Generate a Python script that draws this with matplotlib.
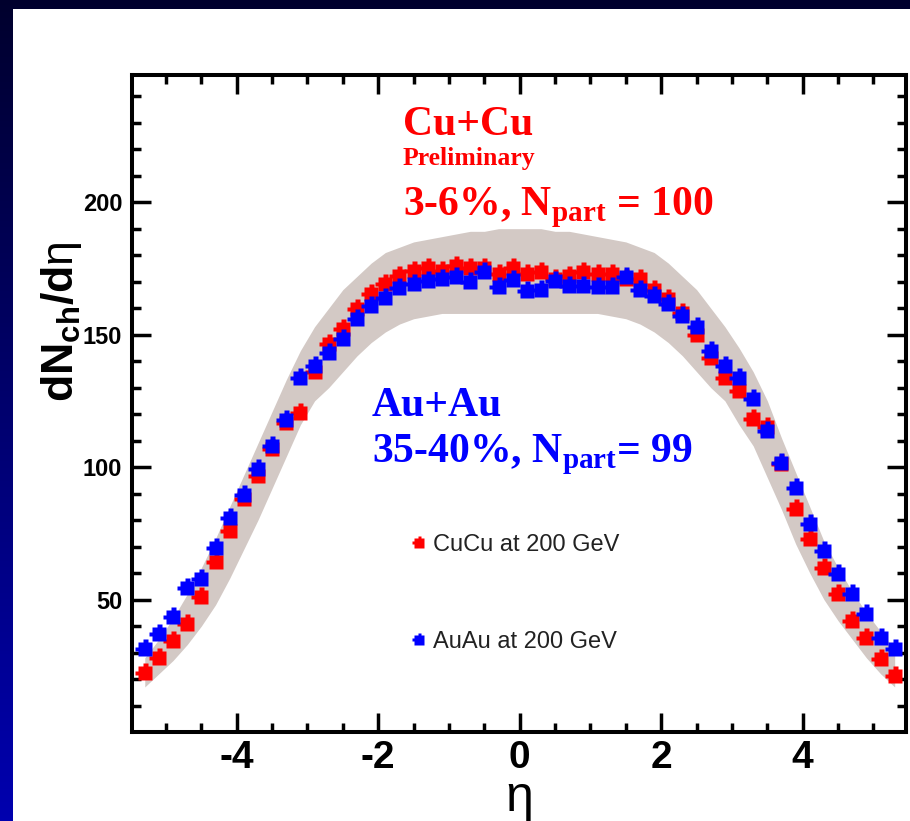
import numpy as np
import matplotlib
matplotlib.use("Agg")
import matplotlib.pyplot as plt
from matplotlib.path import Path
from matplotlib.patches import Rectangle

plt.rcParams['axes.unicode_minus'] = False
plt.rcParams['mathtext.fontset'] = 'custom'
plt.rcParams['mathtext.rm'] = 'Liberation Serif:bold'
plt.rcParams['mathtext.sf'] = 'Liberation Sans:bold'

# pseudorapidity bin centres
eta = [-5.3, -5.1, -4.9, -4.7, -4.5, -4.3, -4.1, -3.9, -3.7, -3.5, -3.3, -3.1,
       -2.9, -2.7, -2.5, -2.3, -2.1, -1.9, -1.7, -1.5, -1.3, -1.1, -0.9, -0.7,
       -0.5, -0.3, -0.1, 0.1, 0.3, 0.5, 0.7, 0.9, 1.1, 1.3, 1.5, 1.7, 1.9, 2.1,
       2.3, 2.5, 2.7, 2.9, 3.1, 3.3, 3.5, 3.7, 3.9, 4.1, 4.3, 4.5, 4.7, 4.9,
       5.1, 5.3]

# Cu+Cu 3-6% central
cucu = [22.3, 28.0, 34.4, 40.8, 51.0, 64.2, 75.9, 88.0, 96.7, 107.0, 116.7, 120.5,
        136.0, 146.6, 152.0, 159.8, 165.5, 169.0, 172.0, 174.0, 175.0, 174.0, 176.0, 175.0,
        175.0, 173.0, 175.0, 173.0, 173.5, 171.0, 172.0, 173.5, 173.0, 173.0, 171.0, 171.0,
        167.0, 163.5, 158.0, 150.0, 141.3, 133.8, 128.8, 118.2, 115.0, 101.0, 84.0, 73.0,
        62.0, 52.0, 42.0, 35.5, 27.6, 21.2]

# Au+Au 35-40% central
auau = [31.4, 37.0, 43.4, 54.4, 57.8, 69.5, 80.8, 89.5, 99.4, 108.0, 117.9, 133.8,
        138.0, 143.0, 148.5, 156.0, 161.0, 164.0, 167.5, 169.0, 170.4, 171.0, 171.6, 169.7,
        173.5, 168.0, 170.5, 166.6, 167.0, 170.4, 168.5, 168.5, 168.0, 168.0, 171.7, 167.0,
        164.7, 161.7, 157.0, 153.0, 144.0, 138.0, 133.8, 125.8, 113.7, 101.6, 92.0, 78.6,
        68.4, 59.7, 52.0, 44.6, 35.5, 31.4]

# systematic band of the Cu+Cu measurement
band_lo = [17, 22, 27, 33, 40, 48, 58, 69, 80, 92, 104, 116,
           125, 130, 136, 142, 147, 151, 154, 156, 157, 158, 158, 158,
           158, 158, 158, 158, 158, 158, 158, 158, 158, 157, 156, 154,
           151, 147, 142, 136, 130, 125, 116, 108, 96, 84, 71, 60,
           50, 42, 35, 28, 22, 17]
band_hi = [28, 35, 43, 52, 62, 73, 85, 97, 109, 121, 133, 144,
           153, 160, 167, 172, 177, 181, 183, 185, 186, 187, 188, 189,
           189, 190, 190, 190, 190, 189, 189, 188, 187, 186, 185, 183,
           181, 177, 172, 167, 160, 153, 145, 136, 125, 111, 98, 85,
           72, 62, 53, 45, 38, 31]

xticks = [-4, -2, 0, 2, 4]
yticks = [50, 100, 150, 200]

# blocky square marker with small tabs on top and left
verts = [(-1, -1), (1, -1), (1, 1), (0.35, 1), (0.35, 1.35), (-0.25, 1.35),
         (-0.25, 1), (-1, 1), (-1, 0.3), (-1.35, 0.3), (-1.35, -0.25),
         (-1, -0.25), (-1, -1)]
marker = Path(verts, [Path.MOVETO] + [Path.LINETO] * (len(verts) - 2) + [Path.CLOSEPOLY])

fig = plt.figure(figsize=(9.1, 8.21), dpi=100)

# slide background: navy gradient with a white panel
bg = fig.add_axes([0, 0, 1, 1], zorder=-10)
grad = np.linspace(0, 1, 256)[:, None]
cols = np.zeros((256, 1, 3))
cols[:, 0, 2] = (45 + 130 * grad[:, 0]) / 255
bg.imshow(cols, aspect='auto', extent=[0, 1, 0, 1])
bg.add_patch(Rectangle((13 / 910, 0), 1, 1 - 9 / 821, facecolor='white', edgecolor='none'))
bg.set_xlim(0, 1)
bg.set_ylim(0, 1)
bg.axis('off')

ax = fig.add_axes([0.1451, 0.1084, 0.8505, 0.8002])
ax.set_facecolor('white')

ax.fill_between(eta, band_lo, band_hi, color='#d3c9c5', lw=0, zorder=1)
ax.plot(eta, cucu, ls='none', marker=marker, ms=14.5, mfc='#ff0000', mec='none',
        zorder=3, label='CuCu at 200 GeV')
ax.plot(eta, auau, ls='none', marker=marker, ms=14.5, mfc='#0000ff', mec='none',
        zorder=4, label='AuAu at 200 GeV')

ax.set_xlim(-5.48, 5.46)
ax.set_ylim(0, 248)
ax.set_xticks(xticks)
ax.set_yticks(yticks)
ax.set_xticks(np.arange(-5, 5.01, 0.5), minor=True)
ax.set_yticks(np.arange(10, 241, 10), minor=True)

for s in ax.spines.values():
    s.set_linewidth(2.9)
ax.tick_params(which='both', direction='in', top=True, right=True, color='black')
ax.tick_params(which='major', length=14, width=2.5)
ax.tick_params(which='minor', length=6.5, width=2.5)
ax.tick_params(axis='x', which='major', pad=6)
ax.tick_params(axis='y', which='major', pad=7)
for lab in ax.get_xticklabels():
    lab.set_fontfamily('Liberation Sans')
    lab.set_fontweight('bold')
    lab.set_fontsize(28)
for lab in ax.get_yticklabels():
    lab.set_fontfamily('Liberation Sans')
    lab.set_fontweight('bold')
    lab.set_fontsize(17)

ax.set_ylabel(r'$\mathsf{dN_{ch}/d}$η', fontsize=32, fontfamily='Liberation Sans')
ax.yaxis.set_label_coords(-0.062, 0.625)
ax.set_xlabel('η', fontsize=36, fontfamily='Liberation Sans')
ax.xaxis.set_label_coords(0.5, -0.065)
ax.xaxis.label.set_va('top')

# collision system labels
serif = dict(fontfamily='Liberation Serif', fontweight='bold', transform=ax.transData)
ax.text(-1.65, 225.5, 'Cu+Cu', color='#ff0000', fontsize=30, **serif)
ax.text(-1.65, 214, 'Preliminary', color='#ff0000', fontsize=18.5, **serif)
ax.text(-1.65, 195, r'3-6%, N$_{\mathrm{part}}$ = 100', color='#ff0000', fontsize=30, **serif)
ax.text(-2.09, 119.4, 'Au+Au', color='#0000ff', fontsize=30, **serif)
ax.text(-2.09, 102, r'35-40%, N$_{\mathrm{part}}$= 99', color='#0000ff', fontsize=30, **serif)

leg = ax.legend(loc='upper left', bbox_to_anchor=(0.334, 0.333), frameon=False,
                handlelength=0.6, handletextpad=0.3, labelspacing=3.15,
                prop={'family': 'Liberation Sans', 'size': 17}, markerscale=0.68)
for t in leg.get_texts():
    t.set_color('#222222')

fig.savefig('out.png', dpi=100)
